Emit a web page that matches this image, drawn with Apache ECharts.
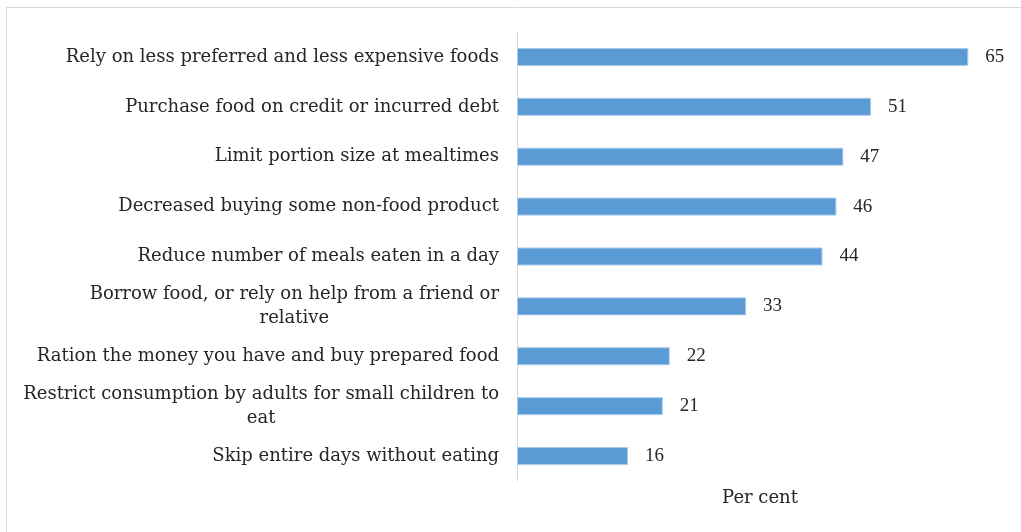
<!DOCTYPE html>
<html>
<head>
<meta charset="utf-8">
<script src="https://cdn.jsdelivr.net/npm/echarts@6/dist/echarts.min.js"></script>
<style>
  html, body { margin: 0; padding: 0; background: #fff; }
  #chart { width: 1021px; height: 532px; }
</style>
</head>
<body>
<div id="chart"></div>
<script>
// Coping strategies, listed top to bottom (line breaks as in the label layout)
const categories = [
  'Rely on less preferred and less expensive foods',
  'Purchase food on credit or incurred debt',
  'Limit portion size at mealtimes',
  'Decreased buying some non-food product',
  'Reduce number of meals eaten in a day',
  'Borrow food, or rely on help from a friend or\nrelative',
  'Ration the money you have and buy prepared food',
  'Restrict consumption by adults for small children to\neat',
  'Skip entire days without eating'
];
const values = [65, 51, 47, 46, 44, 33, 22, 21, 16];
const axisName = 'Per cent';

const FONT = '"DejaVu Serif", "Liberation Serif", serif';
const NUM_FONT = '"Liberation Serif", "DejaVu Serif", serif';
const TEXT = '#262626';

const chart = echarts.init(document.getElementById('chart'), null, { renderer: 'canvas' });

chart.setOption({
  backgroundColor: '#ffffff',
  animation: false,
  graphic: [{
    type: 'rect',
    shape: { x: 6.5, y: 7.5, width: 1200, height: 700 },
    style: { fill: 'none', stroke: '#d9d9d9', lineWidth: 1 },
    silent: true
  }],
  grid: { left: 517, right: 18, top: 32, bottom: 51, containLabel: false },
  xAxis: {
    type: 'value',
    min: 0,
    max: 70,
    axisLine: { show: false },
    axisTick: { show: false },
    axisLabel: { show: false },
    splitLine: { show: false },
    name: axisName,
    nameLocation: 'middle',
    nameGap: 8,
    nameTextStyle: { fontFamily: FONT, fontSize: 18, color: TEXT }
  },
  yAxis: {
    type: 'category',
    inverse: true,
    data: categories,
    axisLine: { show: true, lineStyle: { color: '#d9d9d9', width: 1 } },
    axisTick: { show: false },
    splitLine: { show: false },
    axisLabel: {
      margin: 18,
      align: 'right',
      fontFamily: FONT,
      fontSize: 18,
      color: TEXT,
      lineHeight: 24,
      formatter: (v) => v.split('\n').map(s => '{c|' + s + '}').join('\n'),
      rich: {
        c: { align: 'center', fontFamily: FONT, fontSize: 18, color: TEXT, lineHeight: 24 }
      }
    }
  },
  series: [{
    type: 'bar',
    data: values,
    barWidth: 18,
    itemStyle: { color: '#5B9BD5', borderColor: '#A9CBEA', borderWidth: 1 },
    label: {
      show: true,
      position: 'right',
      distance: 17,
      fontFamily: NUM_FONT,
      fontSize: 19,
      color: TEXT
    }
  }]
});
</script>
</body>
</html>
